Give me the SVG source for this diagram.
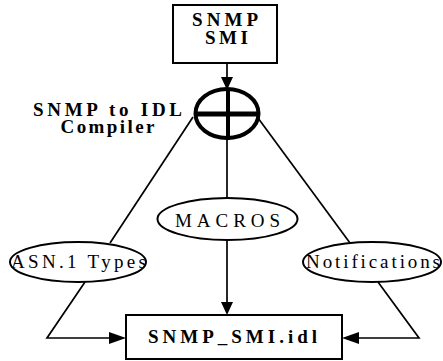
<svg xmlns="http://www.w3.org/2000/svg" width="443" height="361" viewBox="0 0 443 361">
<style>
.box{fill:#fff;stroke:#000;stroke-width:2}
.ell{fill:#fff;stroke:#000;stroke-width:2}
.edge{fill:none;stroke:#000;stroke-width:1.7}
.head{fill:#000;stroke:none}
.b{font-family:"Liberation Serif","Times New Roman",serif;font-weight:bold;font-size:19px;fill:#000}
.r{font-family:"Liberation Serif","Times New Roman",serif;font-size:19px;fill:#000}
</style>
<rect width="443" height="361" fill="#fff"/>
<g id="connectors">
<polyline class="edge" points="227,63 227,78"/>
<polygon class="head" points="221,77 233,77 227,90"/>
<polyline class="edge" points="193,117 110,243"/>
<polyline class="edge" points="85,282 47,338 110,338"/>
<polygon class="head" points="109,332 109,344 126,338"/>
<polyline class="edge" points="258,118 350,243"/>
<polyline class="edge" points="378,282 419,338 358,338"/>
<polygon class="head" points="359,332 359,344 342,338"/>
<polyline class="edge" points="227,140 227,198"/>
<polyline class="edge" points="227,240 227,303"/>
<polygon class="head" points="221,302 233,302 227,315"/>
</g>
<g id="smi">
<rect class="box" x="173" y="5" width="104" height="58"/>
<text class="b" x="225" y="26" text-anchor="middle" textLength="66" lengthAdjust="spacing">SNMP</text>
<text class="b" x="226.5" y="44" text-anchor="middle" textLength="43" lengthAdjust="spacing">SMI</text>
</g>
<g id="compiler">
<ellipse cx="227" cy="113.5" rx="31.5" ry="24.5" fill="#fff" stroke="#000" stroke-width="4"/>
<line x1="195" y1="114" x2="259" y2="114" stroke="#000" stroke-width="5"/>
<line x1="228" y1="88" x2="228" y2="140" stroke="#000" stroke-width="4"/>
<text class="b" x="107.5" y="116" text-anchor="middle" textLength="149" lengthAdjust="spacing">SNMP to IDL</text>
<text class="b" x="107.5" y="133" text-anchor="middle" textLength="94" lengthAdjust="spacing">Compiler</text>
</g>
<g id="macros">
<ellipse class="ell" cx="227.5" cy="219" rx="70" ry="21"/>
<text class="r" x="227.5" y="227" text-anchor="middle" textLength="105" lengthAdjust="spacing">MACROS</text>
</g>
<g id="asn">
<ellipse class="ell" cx="78" cy="262" rx="68" ry="20"/>
<text class="r" x="78.5" y="268" text-anchor="middle" textLength="135" lengthAdjust="spacing">ASN.1 Types</text>
</g>
<g id="notifications">
<ellipse class="ell" cx="372" cy="262" rx="69" ry="20"/>
<text class="r" x="373" y="268" text-anchor="middle" textLength="134" lengthAdjust="spacing">Notifications</text>
</g>
<g id="idl">
<rect class="box" x="126" y="315" width="216" height="44"/>
<text class="b" x="232.5" y="343" text-anchor="middle" textLength="169" lengthAdjust="spacing">SNMP_SMI.idl</text>
</g>
</svg>
